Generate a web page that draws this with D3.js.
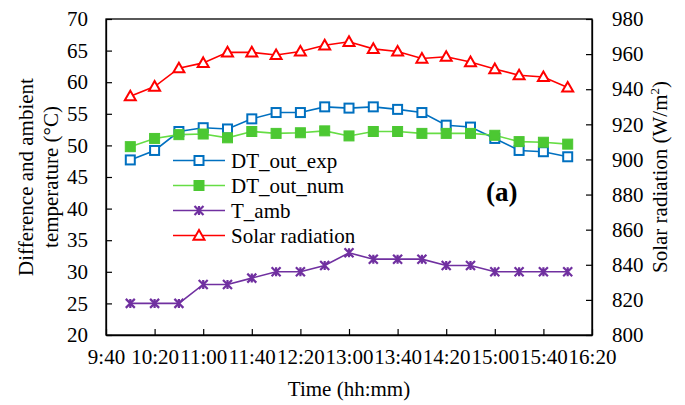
<!DOCTYPE html>
<html>
<head>
<meta charset="utf-8">
<script src="https://cdn.jsdelivr.net/npm/d3@7"></script>
<style>
  html, body { margin: 0; padding: 0; background: #fff; }
  svg { display: block; }
</style>
</head>
<body>
<svg id="chart" width="685" height="405"></svg>
<script>
// Measurement times (hh:mm)
const times = ["10:00","10:20","10:40","11:00","11:20","11:40","12:00","12:20","12:40","13:00",
               "13:20","13:40","14:00","14:20","14:40","15:00","15:20","15:40","16:00"];
// Outlet temperature difference, experiment (°C)
const dtOutExp = [47.7,49.2,52.2,52.8,52.6,54.2,55.2,55.2,56.1,55.9,56.1,55.7,55.2,53.2,52.9,51.1,49.2,49.0,48.2];
// Outlet temperature difference, numerical (°C)
const dtOutNum = [49.8,51.1,51.7,51.8,51.2,52.2,51.9,52.0,52.3,51.5,52.2,52.2,51.9,51.9,51.9,51.6,50.6,50.5,50.2];
// Ambient temperature (°C)
const tAmb = [25,25,25,28,28,29,30,30,31,33,32,32,32,31,31,30,30,30,30];
// Solar radiation (W/m²)
const solar = [936,941.5,952,955,961,961,959.5,961.5,965,967,963,961.5,957.5,958.5,955.5,951.5,948,947,941];

// Axis ticks
const xTickLabels = ["9:40","10:20","11:00","11:40","12:20","13:00","13:40","14:20","15:00","15:40","16:20"];
const yLeftTicks = [20,25,30,35,40,45,50,55,60,65,70];
const yRightTicks = [800,820,840,860,880,900,920,940,960,980];

const toMin = s => { const [h, m] = s.split(":").map(Number); return h * 60 + m; };
const fmt = v => Math.floor(v / 60) + ":" + String(v % 60).padStart(2, "0");

const FONT = "Liberation Serif";
const FS = 21;
const svg = d3.select("#chart");
const L = 106, R = 592, T = 19, B = 335;

const x = d3.scaleLinear().domain([toMin("9:40"), toMin("16:20")]).range([L, R]);
const yL = d3.scaleLinear().domain([20, 70]).range([B, T]);
const yR = d3.scaleLinear().domain([800, 980]).range([B, T]);

// frame
svg.append("rect").attr("x", L).attr("y", T).attr("width", R - L).attr("height", B - T)
  .attr("fill", "none").attr("stroke", "#000").attr("stroke-width", 1.3);

// axes with inward ticks
const xAxis = svg.append("g").attr("transform", `translate(0,${B})`)
  .call(d3.axisBottom(x).tickValues(xTickLabels.map(toMin)).tickFormat(fmt).tickSizeInner(-6).tickSizeOuter(0).tickPadding(14));
const yAxisL = svg.append("g").attr("transform", `translate(${L},0)`)
  .call(d3.axisLeft(yL).tickValues(yLeftTicks).tickSizeInner(-6).tickSizeOuter(0).tickPadding(18));
const yAxisR = svg.append("g").attr("transform", `translate(${R},0)`)
  .call(d3.axisRight(yR).tickValues(yRightTicks).tickSizeInner(-6).tickSizeOuter(0).tickPadding(20));
[xAxis, yAxisL, yAxisR].forEach(g => {
  g.attr("font-family", FONT).attr("font-size", FS);
  g.select(".domain").attr("stroke", "#000").attr("stroke-width", 1.3);
  g.selectAll(".tick line").attr("stroke", "#000").attr("stroke-width", 1.2);
  g.selectAll(".tick text").attr("fill", "#000");
});

const xs = times.map(toMin);

const series = [
  { name: "DT_out_exp", values: dtOutExp, y: yL, line: "#0070C0", marker: "square-open", mc: "#0070C0" },
  { name: "DT_out_num", values: dtOutNum, y: yL, line: "#66DD44", marker: "square", mc: "#4CC832" },
  { name: "T_amb", values: tAmb, y: yL, line: "#7030A0", marker: "star", mc: "#7030A0" },
  { name: "Solar radiation", values: solar, y: yR, line: "#FF0000", marker: "triangle", mc: "#FF0000" }
];

function drawMarker(g, type, cx, cy, color) {
  if (type === "square-open") {
    g.append("rect").attr("x", cx - 4.5).attr("y", cy - 4.5).attr("width", 9).attr("height", 9)
      .attr("fill", "#fff").attr("stroke", color).attr("stroke-width", 2);
  } else if (type === "square") {
    g.append("rect").attr("x", cx - 5).attr("y", cy - 5).attr("width", 10).attr("height", 10)
      .attr("fill", color).attr("stroke", color).attr("stroke-width", 1);
  } else if (type === "star") {
    const s = 4.5;
    g.append("path")
      .attr("d", `M${cx - s},${cy - s}L${cx + s},${cy + s}M${cx - s},${cy + s}L${cx + s},${cy - s}M${cx},${cy - s}L${cx},${cy + s}`)
      .attr("stroke", color).attr("stroke-width", 2.2).attr("fill", "none");
  } else if (type === "triangle") {
    const s = 5.5;
    g.append("path")
      .attr("d", `M${cx},${cy - s}L${cx + s},${cy + s * 0.75}L${cx - s},${cy + s * 0.75}Z`)
      .attr("fill", "#fff").attr("stroke", color).attr("stroke-width", 2);
  }
}

series.forEach(s => {
  const g = svg.append("g");
  const line = d3.line().x((d, i) => x(xs[i])).y(d => s.y(d));
  g.append("path").datum(s.values).attr("d", line)
    .attr("fill", "none").attr("stroke", s.line).attr("stroke-width", 1.6);
  s.values.forEach((v, i) => drawMarker(g, s.marker, x(xs[i]), s.y(v), s.mc));
});

// legend
const lg = svg.append("g");
series.forEach((s, i) => {
  const yy = 160.5 + i * 25;
  lg.append("line").attr("x1", 173).attr("x2", 225).attr("y1", yy).attr("y2", yy)
    .attr("stroke", s.line).attr("stroke-width", 1.6);
  drawMarker(lg, s.marker, 199, yy, s.mc);
  lg.append("text").attr("x", 231).attr("y", yy + 7)
    .attr("font-family", FONT).attr("font-size", FS).text(s.name);
});

// panel tag
svg.append("text").attr("x", 486).attr("y", 201).attr("font-family", FONT)
  .attr("font-size", 27).attr("font-weight", "bold").text("(a)");

// axis titles
svg.append("text").attr("x", (L + R) / 2).attr("y", 396).attr("text-anchor", "middle")
  .attr("font-family", FONT).attr("font-size", FS).text("Time (hh:mm)");
const lt = svg.append("text").attr("transform", `translate(33,${(T + B) / 2}) rotate(-90)`)
  .attr("text-anchor", "middle").attr("font-family", FONT).attr("font-size", FS);
lt.append("tspan").attr("x", 0).attr("dy", 0).text("Difference and ambient");
lt.append("tspan").attr("x", 0).attr("dy", 25).text("temperature (°C)");
const rt = svg.append("text").attr("transform", `translate(667,${(T + B) / 2}) rotate(-90)`)
  .attr("text-anchor", "middle").attr("font-family", FONT).attr("font-size", FS);
rt.append("tspan").text("Solar radiation (W/m");
rt.append("tspan").attr("font-size", 13).attr("dy", -8).text("2");
rt.append("tspan").attr("dy", 8).text(")");
</script>
</body>
</html>
